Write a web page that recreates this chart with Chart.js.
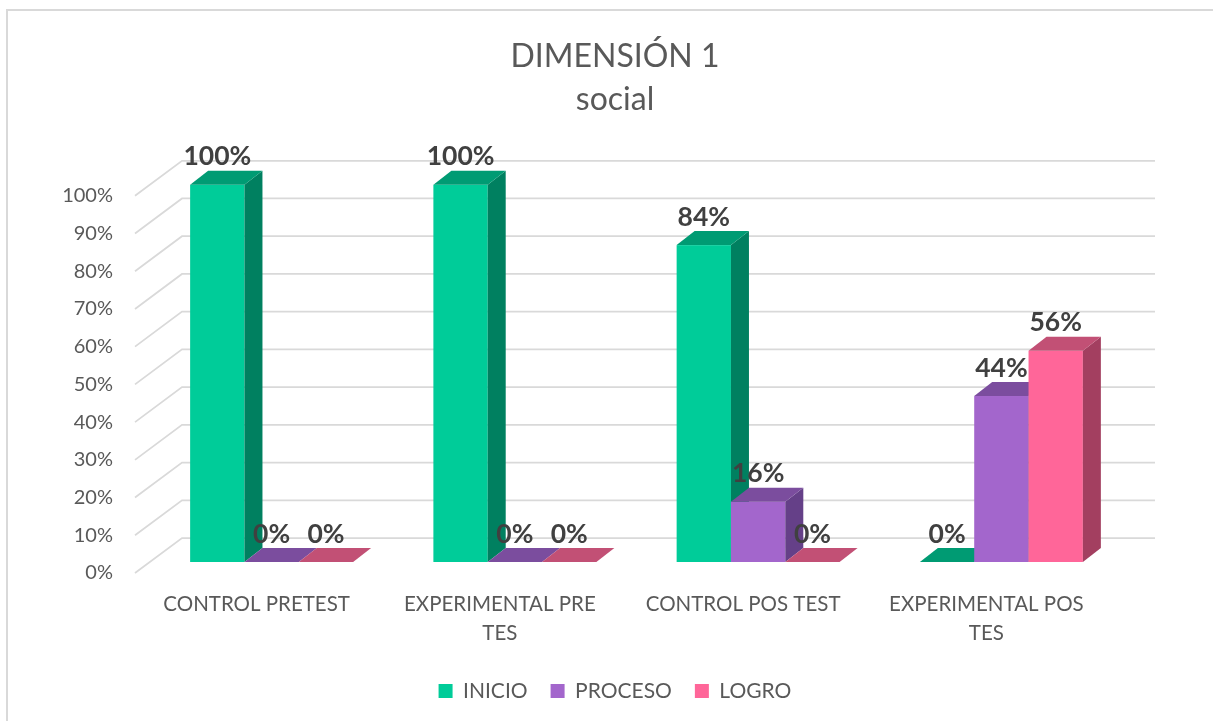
<!DOCTYPE html>
<html>
<head>
<meta charset="utf-8">
<script src="https://cdn.jsdelivr.net/npm/chart.js@4"></script>
<style>
  html, body { margin:0; padding:0; background:#fff; }
  #wrap { position:relative; width:1213px; height:721px; overflow:hidden; }
  #frame { position:absolute; left:6px; top:9px; width:1230px; height:740px; border:2px solid #d9d9d9; box-sizing:border-box; }
  canvas { position:absolute; left:0; top:0; }
</style>
</head>
<body>
<div id="wrap">
  <div id="frame"></div>
  <canvas id="c" width="1213" height="721"></canvas>
</div>
<script>
// ---- data ----
const categories = [['CONTROL PRETEST'], ['EXPERIMENTAL PRE', 'TES'], ['CONTROL POS TEST'], ['EXPERIMENTAL POS', 'TES']];
const seriesNames = ['INICIO', 'PROCESO', 'LOGRO'];
const inicio  = [1.00, 1.00, 0.84, 0.00];
const proceso = [0.00, 0.00, 0.16, 0.44];
const logro   = [0.00, 0.00, 0.00, 0.56];
const yMin = 0, yMax = 1, yStep = 0.1;
const chartTitle = ['DIMENSIÓN 1', 'social'];

// ---- styles ----
const frontColors = ['#00CC99', '#A366CC', '#FF6699'];
const topColors   = ['#009B73', '#7B4D9E', '#C25075'];
const sideColors  = ['#008060', '#654088', '#A33F60'];
const FONT = 'Lato';
const PLANE = { dx: 15, dy: -11 };   // bar front plane offset from axis plane
const BAR   = { dx: 18, dy: -14 };   // bar depth
const WALL  = { dx: 47, dy: -35 };   // back wall depth

const fmt = v => Math.round(v * 100) + '%';

const threeD = {
  id: 'threeD',
  beforeDatasetsDraw(chart) {
    const { ctx, chartArea: a, scales: { y } } = chart;
    ctx.save();
    ctx.strokeStyle = '#d9d9d9';
    ctx.lineWidth = 1.75;
    y.ticks.forEach(t => {
      const py = y.getPixelForValue(t.value);
      ctx.beginPath();
      ctx.moveTo(a.left, py);
      ctx.lineTo(a.left + WALL.dx, py + WALL.dy);
      ctx.lineTo(a.right + WALL.dx, py + WALL.dy);
      ctx.stroke();
    });
    ctx.restore();
  },
  beforeDatasetDraw() { return false; },
  afterDatasetsDraw(chart) {
    const { ctx } = chart;
    const n = chart.data.labels.length;
    const metas = chart.data.datasets.map((d, i) => chart.getDatasetMeta(i));
    ctx.save();
    for (let c = 0; c < n; c++) {
      metas.forEach((m, di) => {
        const el = m.data[c];
        const x0 = el.x - el.width / 2 + PLANE.dx;
        const x1 = el.x + el.width / 2 + PLANE.dx;
        const yT = el.y + PLANE.dy;
        const yB = el.base + PLANE.dy;
        if (yB - yT > 0.5) {
          ctx.fillStyle = frontColors[di];
          ctx.fillRect(x0, yT, x1 - x0, yB - yT);
          ctx.fillStyle = sideColors[di];
          ctx.beginPath();
          ctx.moveTo(x1, yT);
          ctx.lineTo(x1 + BAR.dx, yT + BAR.dy);
          ctx.lineTo(x1 + BAR.dx, yB + BAR.dy);
          ctx.lineTo(x1, yB);
          ctx.closePath();
          ctx.fill();
        }
        ctx.fillStyle = topColors[di];
        ctx.beginPath();
        ctx.moveTo(x0, yT);
        ctx.lineTo(x1, yT);
        ctx.lineTo(x1 + BAR.dx, yT + BAR.dy);
        ctx.lineTo(x0 + BAR.dx, yT + BAR.dy);
        ctx.closePath();
        ctx.fill();
      });
    }
    ctx.fillStyle = '#404040';
    ctx.font = 'bold 26.5px ' + FONT;
    ctx.textAlign = 'center';
    ctx.textBaseline = 'middle';
    metas.forEach((m, di) => {
      const data = chart.data.datasets[di].data;
      m.data.forEach((el, i) => {
        ctx.fillText(fmt(data[i]), el.x + PLANE.dx, el.y + PLANE.dy - 28);
      });
    });
    ctx.restore();
  }
};

new Chart(document.getElementById('c'), {
  type: 'bar',
  data: {
    labels: categories,
    datasets: [
      { label: seriesNames[0], data: inicio,  backgroundColor: frontColors[0], yAxisID: 'y' },
      { label: seriesNames[1], data: proceso, backgroundColor: frontColors[1], yAxisID: 'y' },
      { label: seriesNames[2], data: logro,   backgroundColor: frontColors[2], yAxisID: 'y' }
    ]
  },
  options: {
    responsive: false,
    animation: false,
    layout: { padding: { left: 17, right: 0, top: 0, bottom: 9.5 } },
    datasets: { bar: { categoryPercentage: 0.67, barPercentage: 1.0 } },
    plugins: {
      title: {
        display: true,
        text: chartTitle,
        color: '#595959',
        font: { family: FONT, size: 32, weight: 'normal', lineHeight: 1.34 },
        padding: { top: 35.5, bottom: 74.5 }
      },
      legend: {
        position: 'bottom',
        labels: {
          color: '#595959',
          font: { family: FONT, size: 21 },
          boxWidth: 14, boxHeight: 14,
          padding: 23
        }
      },
      tooltip: { enabled: false }
    },
    scales: {
      x: {
        grid: { display: false, drawTicks: false },
        border: { display: false },
        ticks: {
          color: '#595959',
          font: { family: FONT, size: 20.5, lineHeight: 1.4 },
          padding: 17.5,
          maxRotation: 0, autoSkip: false
        },
        afterFit(s) { s.height = 84.5; }
      },
      y: {
        min: yMin, max: yMax,
        grid: { display: false, drawTicks: false },
        border: { display: false },
        ticks: {
          stepSize: yStep,
          color: '#595959',
          font: { family: FONT, size: 20 },
          padding: 22,
          callback: v => fmt(v)
        },
        afterFit(s) { s.width = 118; }
      },
      yRight: {
        position: 'right',
        display: true,
        min: 0, max: 1,
        grid: { display: false, drawTicks: false },
        border: { display: false },
        ticks: { display: false },
        afterFit(s) { s.width = 105; }
      }
    }
  },
  plugins: [threeD]
});
</script>
</body>
</html>
